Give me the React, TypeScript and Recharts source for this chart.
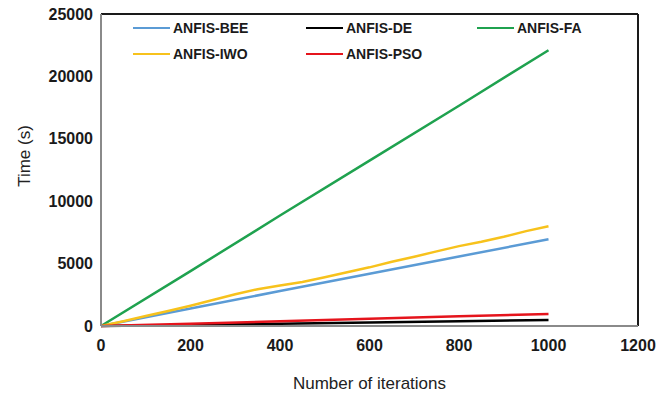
import { LineChart, Line, XAxis, YAxis, ReferenceLine } from 'recharts'

// iteration grid (every 50) — IWO was logged at every step, the rest every 200
const iterations = [0, 50, 100, 150, 200, 250, 300, 350, 400, 450, 500, 550, 600, 650, 700, 750, 800, 850, 900, 950, 1000]
const iwoTime = [0, 380, 800, 1200, 1620, 2080, 2550, 2950, 3250, 3520, 3900, 4300, 4700, 5150, 5550, 5980, 6400, 6750, 7150, 7600, 8000]

const coarseIters = [0, 200, 400, 600, 800, 1000]
const beeTime = [0, 1400, 2800, 4180, 5570, 6950]
const deTime = [0, 90, 190, 290, 390, 480]
const faTime = [0, 4400, 8850, 13250, 17650, 22100]
const psoTime = [0, 180, 380, 580, 780, 970]

const xTicks = [0, 200, 400, 600, 800, 1000, 1200]
const yTicks = [0, 5000, 10000, 15000, 20000, 25000]

const series = [
  { key: 'bee', name: 'ANFIS-BEE', color: '#5b9bd5' },
  { key: 'de', name: 'ANFIS-DE', color: '#000000' },
  { key: 'fa', name: 'ANFIS-FA', color: '#1fa24f' },
  { key: 'iwo', name: 'ANFIS-IWO', color: '#f7c21c' },
  { key: 'pso', name: 'ANFIS-PSO', color: '#e5141c' },
]

const data = iterations.map((it, i) => {
  const j = coarseIters.indexOf(it)
  return {
    iter: it,
    iwo: iwoTime[i],
    bee: j >= 0 ? beeTime[j] : null,
    de: j >= 0 ? deTime[j] : null,
    fa: j >= 0 ? faTime[j] : null,
    pso: j >= 0 ? psoTime[j] : null,
  }
})

const FONT = '"Liberation Sans", Arial, sans-serif'
const tickStyle = { fill: '#1a1a1a', fontSize: 16, fontWeight: 700, fontFamily: FONT }

// legend sits inside the plot frame, 3 columns x 2 rows
const legendCols = [133, 306, 477]
const legendRows = [28, 54]

function InlineLegend() {
  return (
    <>
      {series.map((s, i) => (
        <div
          key={s.key}
          style={{
            position: 'absolute',
            left: legendCols[i % 3],
            top: legendRows[Math.floor(i / 3)] - 9,
            height: 18,
            display: 'flex',
            alignItems: 'center',
            gap: 3,
            fontFamily: FONT,
            fontWeight: 700,
            fontSize: 14,
            color: '#1a1a1a',
          }}
        >
          <span style={{ width: 37, height: 2.5, background: s.color, display: 'inline-block' }} />
          <span>{s.name}</span>
        </div>
      ))}
    </>
  )
}

export default function App() {
  return (
    <div style={{ position: 'absolute', left: 0, top: 0, width: 671, height: 397, background: '#fff' }}>
      <LineChart width={671} height={397} data={data} margin={{ top: 14, right: 33, bottom: 41, left: 0 }}>
        <XAxis
          dataKey="iter"
          type="number"
          domain={[0, 1200]}
          ticks={xTicks}
          tick={tickStyle}
          tickLine={false}
          tickMargin={8}
          axisLine={{ stroke: '#8a8a8a', strokeWidth: 2 }}
          height={30}
          label={{
            content: ({ viewBox }: any) => (
              <text
                x={viewBox.x + viewBox.width / 2}
                y={viewBox.y + 63}
                textAnchor="middle"
                style={{ fontFamily: FONT, fontSize: 17, fill: '#222' }}
              >
                Number of iterations
              </text>
            ),
          }}
        />
        <YAxis
          type="number"
          domain={[0, 25000]}
          ticks={yTicks}
          tick={tickStyle}
          tickLine={false}
          width={101}
          axisLine={{ stroke: '#8a8a8a', strokeWidth: 2 }}
          label={{
            content: ({ viewBox }: any) => {
              const cx = 24
              const cy = viewBox.y + viewBox.height / 2 - 14
              return (
                <text
                  x={cx}
                  y={cy}
                  textAnchor="middle"
                  dominantBaseline="central"
                  transform={`rotate(-90 ${cx} ${cy})`}
                  style={{ fontFamily: FONT, fontSize: 17, fill: '#222' }}
                >
                  Time (s)
                </text>
              )
            },
          }}
        />
        {/* closing the frame on top and right */}
        <ReferenceLine y={25000} stroke="#1a1a1a" strokeWidth={2} />
        <ReferenceLine x={1200} stroke="#1a1a1a" strokeWidth={2} />
        {series.map((s) => (
          <Line
            key={s.key}
            dataKey={s.key}
            name={s.name}
            stroke={s.color}
            strokeWidth={2.5}
            dot={false}
            connectNulls
            isAnimationActive={false}
          />
        ))}
      </LineChart>
      <InlineLegend />
    </div>
  )
}
